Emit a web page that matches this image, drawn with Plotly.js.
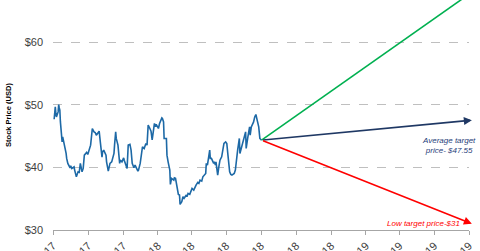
<!DOCTYPE html>
<html>
<head>
<meta charset="utf-8">
<script src="https://cdn.plot.ly/plotly-3.0.1.min.js"></script>
<style>html,body{margin:0;padding:0;background:#fff}#chart{width:480px;height:251px}</style>
</head>
<body>
<div id="chart"></div>
<script>
// Stock price history (USD)
const dates = ['2017-07-03','2017-07-05','2017-07-06','2017-07-07','2017-07-10','2017-07-11','2017-07-12','2017-07-13','2017-07-14','2017-07-17',
'2017-07-18','2017-07-20','2017-07-24','2017-07-25','2017-07-27','2017-07-31','2017-08-01','2017-08-03','2017-08-07','2017-08-08',
'2017-08-11','2017-08-14','2017-08-16','2017-08-18','2017-08-21','2017-08-23','2017-08-25','2017-08-29','2017-08-31','2017-09-05',
'2017-09-06','2017-09-08','2017-09-11','2017-09-13','2017-09-15','2017-09-18','2017-09-20','2017-09-22','2017-09-25','2017-09-26',
'2017-09-28','2017-10-02','2017-10-03','2017-10-06','2017-10-09','2017-10-12','2017-10-16','2017-10-17','2017-10-19','2017-10-20',
'2017-10-23','2017-10-26','2017-10-27','2017-10-30','2017-11-02','2017-11-03','2017-11-06','2017-11-08','2017-11-10','2017-11-13',
'2017-11-15','2017-11-17','2017-11-20','2017-11-22','2017-11-27','2017-11-28','2017-12-01','2017-12-04','2017-12-05','2017-12-08',
'2017-12-11','2017-12-13','2017-12-15','2017-12-18','2017-12-20','2017-12-22','2017-12-26','2017-12-28','2017-12-29','2018-01-02',
'2018-01-04','2018-01-08','2018-01-09','2018-01-11','2018-01-12','2018-01-16','2018-01-17','2018-01-19','2018-01-22','2018-01-23',
'2018-01-25','2018-01-29','2018-01-30','2018-02-01','2018-02-02','2018-02-05','2018-02-06','2018-02-08','2018-02-09','2018-02-12',
'2018-02-14','2018-02-16','2018-02-20','2018-02-21','2018-02-23','2018-02-26','2018-02-28','2018-03-02','2018-03-05','2018-03-07',
'2018-03-09','2018-03-12','2018-03-14','2018-03-16','2018-03-19','2018-03-21','2018-03-23','2018-03-26','2018-03-27','2018-03-29',
'2018-04-02','2018-04-03','2018-04-05','2018-04-09','2018-04-10','2018-04-12','2018-04-13','2018-04-16','2018-04-18','2018-04-20',
'2018-04-23','2018-04-25','2018-04-27','2018-04-30','2018-05-02','2018-05-04','2018-05-07','2018-05-09','2018-05-11','2018-05-15',
'2018-05-17','2018-05-21','2018-05-22','2018-05-24','2018-05-25','2018-05-29','2018-05-31','2018-06-04','2018-06-05','2018-06-07',
'2018-06-08','2018-06-11','2018-06-12','2018-06-14','2018-06-18','2018-06-20','2018-06-22','2018-06-25','2018-06-27','2018-06-29',
'2018-07-02'];
const prices = [47.70,49.67,48.66,48.07,48.87,50.05,49.51,49.14,47.27,44.08,
44.88,44.08,42.23,41.44,40.64,39.94,40.26,39.84,40.10,39.57,
38.50,39.30,39.21,40.64,39.30,39.84,41.96,42.39,42.07,43.56,
44.63,46.22,45.68,45.58,45.15,45.68,45.79,44.08,41.64,42.49,
42.76,41.96,40.89,39.41,40.64,40.89,42.23,43.56,45.68,44.63,
43.56,40.64,41.16,40.89,41.53,41.16,40.10,39.84,43.56,43.67,
42.76,40.64,39.94,40.37,39.41,39.57,40.64,43.03,43.29,43.03,
43.83,43.56,46.75,46.22,45.79,44.40,47.02,46.48,46.89,46.22,
47.02,47.91,47.82,47.27,44.63,44.63,41.96,40.89,39.57,37.29,
38.25,37.97,38.34,38.25,37.61,36.11,35.69,35.58,34.10,34.51,
35.31,35.06,35.58,35.31,35.85,35.69,36.22,36.65,36.38,36.91,
37.18,37.61,37.45,37.97,37.81,38.50,38.77,39.04,40.64,40.37,
42.76,41.44,41.44,40.64,40.89,40.37,40.89,38.77,40.10,41.16,
41.69,42.49,43.83,44.08,43.83,41.96,39.30,38.88,38.77,39.04,
39.57,42.76,43.56,44.63,42.23,43.56,44.63,45.68,43.03,44.63,
44.88,46.48,45.15,46.48,47.27,48.07,48.45,47.27,46.48,44.63,
44.35];

// Analyst targets (start = last close, end = target)
const targetDates = ['2018-07-02','2019-07-06'];
const highTarget = [44.35, 68];
const avgTarget = [44.35, 47.55];
const lowTarget = [44.35, 31];

// Axis ticks
const xTickVals = ['2017-07-01','2017-09-01','2017-11-01','2018-01-01','2018-03-01','2018-05-01','2018-07-01','2018-09-01','2018-11-01','2019-01-01','2019-03-01','2019-05-01','2019-07-01'];
const xTickText = ['17','17','17','18','18','18','18','18','18','19','19','19','19'];
const yTickVals = [30, 40, 50, 60];
const yTickText = ['$30','$40','$50','$60'];

const avgLabel = 'Average target<br>price- $47.55';
const lowLabel = 'Low target price-$31';

const traces = [
  {x: dates, y: prices, type: 'scatter', mode: 'lines', line: {color: '#1d69a6', width: 1.6}, hoverinfo: 'skip'},
  {x: targetDates, y: highTarget, type: 'scatter', mode: 'lines', line: {color: '#00b050', width: 1.6}, hoverinfo: 'skip'}
];

const layout = {
  width: 480, height: 251,
  margin: {l: 53, r: 11, t: 0, b: 21},
  paper_bgcolor: '#ffffff', plot_bgcolor: '#ffffff',
  showlegend: false,
  font: {family: 'Liberation Sans, Arial, sans-serif', color: '#404040'},
  xaxis: {
    type: 'date', range: ['2017-07-01','2019-07-01'],
    tickmode: 'array', tickvals: xTickVals, ticktext: xTickText,
    tickangle: -45, tickfont: {size: 11, color: '#404040'},
    showgrid: false, zeroline: false,
    showline: true, linecolor: '#a6a6a6', linewidth: 1,
    ticks: 'outside', ticklen: 4, tickcolor: '#a6a6a6'
  },
  yaxis: {
    range: [30, 66.75],
    tickmode: 'array', tickvals: yTickVals, ticktext: yTickText,
    tickfont: {size: 11, color: '#404040'},
    showgrid: true, gridcolor: '#bfbfbf', griddash: 'dash', gridwidth: 1,
    zeroline: false, showline: false, ticks: '', ticklabelstandoff: 9,
    title: {text: 'Stock Price (USD)', font: {size: 7.5, color: '#000000', family: 'Liberation Sans, Arial, sans-serif', weight: 'bold'}, standoff: 12}
  },
  annotations: [
    {x: targetDates[1], y: avgTarget[1], ax: targetDates[0], ay: avgTarget[0], xref: 'x', yref: 'y', axref: 'x', ayref: 'y',
     text: '', showarrow: true, arrowhead: 2, arrowsize: 1, arrowwidth: 1.6, arrowcolor: '#1f3864'},
    {x: targetDates[1], y: lowTarget[1], ax: targetDates[0], ay: lowTarget[0], xref: 'x', yref: 'y', axref: 'x', ayref: 'y',
     text: '', showarrow: true, arrowhead: 2, arrowsize: 1, arrowwidth: 1.6, arrowcolor: '#ff0000'},
    {x: '2019-05-27', y: 43.5, xref: 'x', yref: 'y', text: '<i>' + avgLabel + '</i>', showarrow: false,
     font: {size: 8, color: '#1f3e7a'}, align: 'center'},
    {x: '2019-04-12', y: 31.0, xref: 'x', yref: 'y', text: '<i>' + lowLabel + '</i>', showarrow: false,
     font: {size: 8, color: '#ff0000'}, align: 'center'}
  ]
};

Plotly.newPlot('chart', traces, layout, {staticPlot: true, displayModeBar: false});
</script>
</body>
</html>
